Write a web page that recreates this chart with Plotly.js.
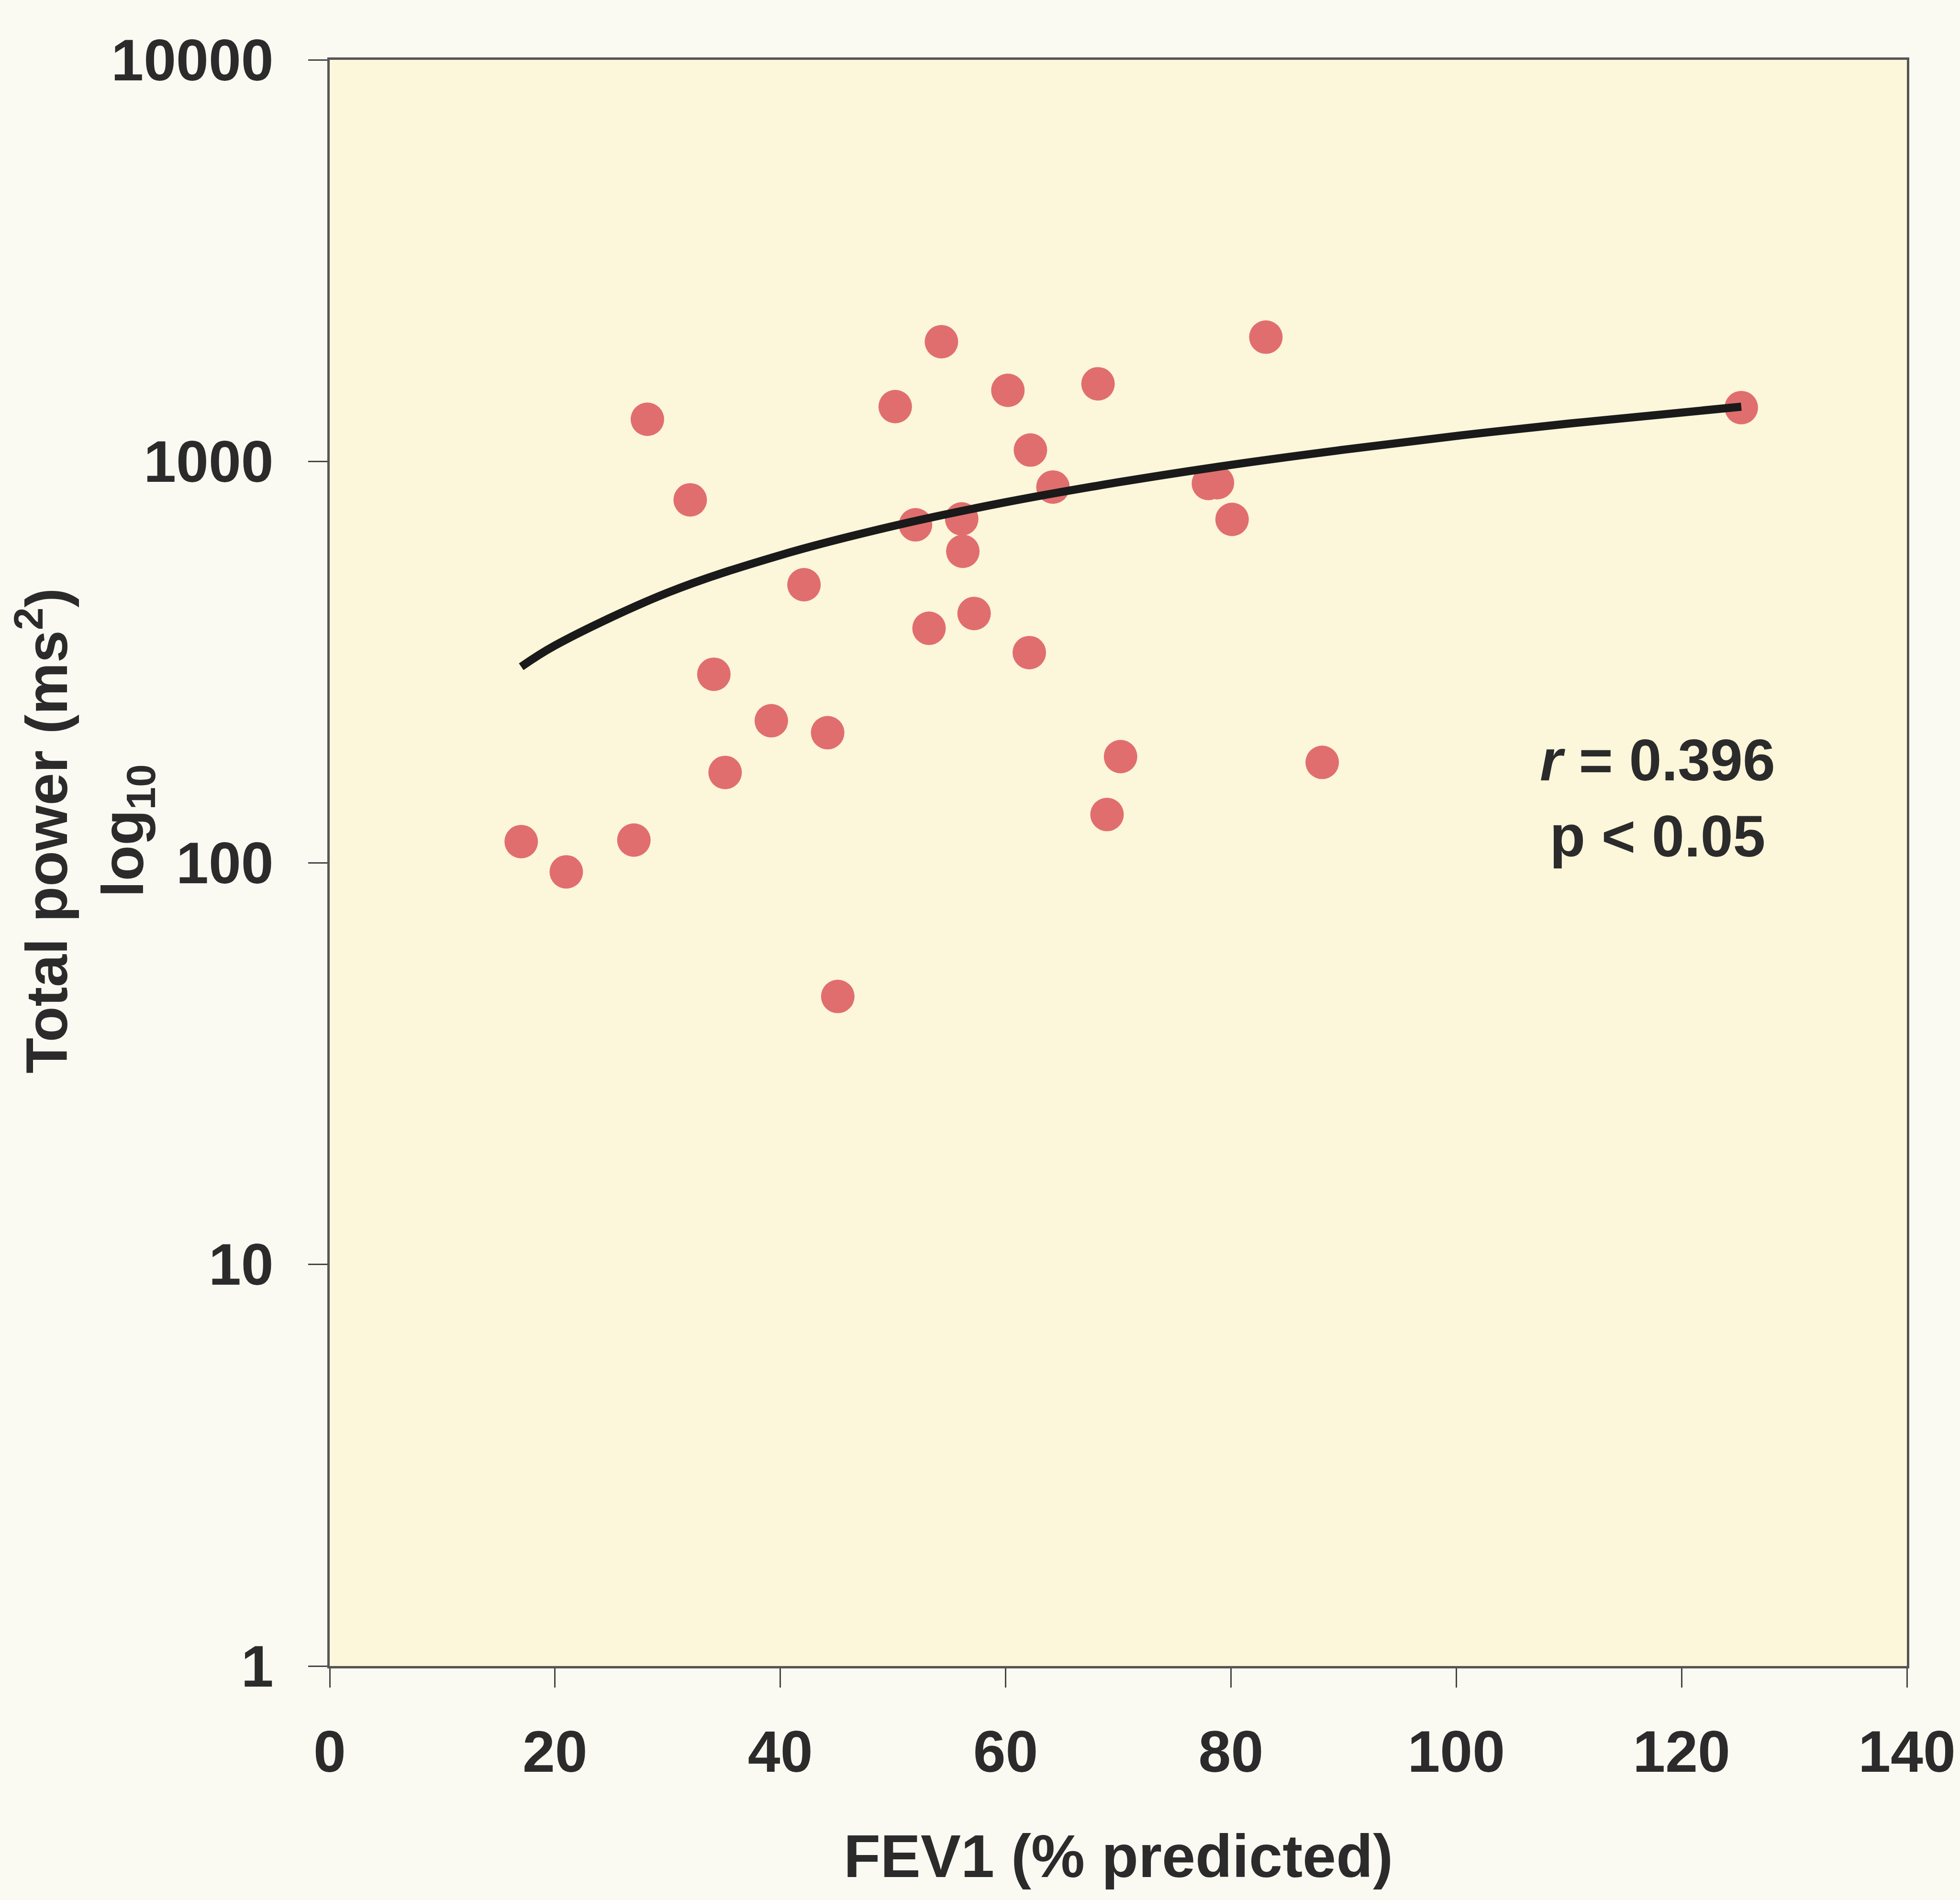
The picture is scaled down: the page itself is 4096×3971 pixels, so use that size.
<!DOCTYPE html>
<html>
<head>
<meta charset="utf-8">
<script src="https://cdn.plot.ly/plotly-3.0.1.min.js"></script>
<style>
html, body { margin: 0; padding: 0; background: #FAFAF3; }
#chart { width: 4096px; height: 3971px; }
</style>
</head>
<body>
<div id="chart"></div>
<script>
// Scatter data: FEV1 (% predicted) vs Total power (ms^2)
const fev1 = [17.0, 21.0, 27.0, 28.2, 32.0, 34.1, 35.1, 39.2, 42.1, 44.2, 45.1,
              50.2, 52.0, 53.2, 54.3, 56.1, 56.2, 57.2, 60.2, 62.1, 62.2, 64.2,
              68.2, 69.0, 70.2, 78.0, 78.8, 80.1, 83.1, 88.1, 125.3];
const totalPower = [113, 95, 114, 1273, 802, 295, 168, 226, 493, 211, 46.5,
                    1369, 695, 384, 1986, 719, 597, 418, 1503, 334, 1067, 863,
                    1560, 132, 184, 881, 885, 717, 2039, 178, 1361];

// Trend (power) curve
const trendFev1  = [17.0, 20, 30, 40, 50, 60, 70, 80, 90, 100, 110, 125.3];
const trendPower = [308, 348, 471, 584, 690, 791, 887, 980, 1069, 1157, 1242, 1368];

const xTickVals = [0, 20, 40, 60, 80, 100, 120, 140];
const xTickText = ['0', '20', '40', '60', '80', '100', '120', '140'];
const yTickVals = [1, 10, 100, 1000, 10000];
const yTickText = ['1', '10', '100', '1000', '10000'];

const xTitle = 'FEV1 (% predicted)';
const yTitle = 'Total power (ms<sup>2</sup>)<br>log<sub>10</sub>';
const statText = '<i>r</i> = 0.396<br>p &lt; 0.05';

const FONT = '"Liberation Sans", Arial, sans-serif';
const INK = '#2b2b2b';

const traces = [
  {
    type: 'scatter', mode: 'markers',
    x: fev1, y: totalPower,
    marker: { color: 'rgb(225,110,110)', size: 70, line: { width: 0 } },
    showlegend: false, hoverinfo: 'x+y'
  },
  {
    type: 'scatter', mode: 'lines',
    x: trendFev1, y: trendPower,
    line: { color: '#1a1a1a', width: 17, shape: 'spline' },
    showlegend: false, hoverinfo: 'skip'
  }
];

const layout = {
  width: 4096, height: 3971,
  margin: { l: 689, r: 111, t: 125, b: 489, pad: 0 },
  paper_bgcolor: '#FAFAF3',
  plot_bgcolor: '#FCF6DA',
  font: { family: FONT, size: 122, color: INK, weight: 'bold' },
  xaxis: {
    range: [0, 140],
    tickmode: 'array', tickvals: xTickVals, ticktext: xTickText,
    ticks: 'outside', ticklen: 40, tickwidth: 3, tickcolor: '#444',
    ticklabelstandoff: 30, ticklabeloverflow: 'allow',
    tickfont: { family: FONT, size: 122, color: INK, weight: 'bold' },
    showline: true, linecolor: '#555', linewidth: 5, mirror: true,
    showgrid: false, zeroline: false,
    title: { text: xTitle, standoff: 108, font: { family: FONT, size: 126, color: INK, weight: 'bold' } }
  },
  yaxis: {
    type: 'log', range: [0, 4],
    tickmode: 'array', tickvals: yTickVals, ticktext: yTickText,
    ticks: 'outside', ticklen: 40, tickwidth: 3, tickcolor: '#444',
    ticklabelstandoff: 48, ticklabeloverflow: 'allow',
    tickfont: { family: FONT, size: 122, color: INK, weight: 'bold' },
    showline: true, linecolor: '#555', linewidth: 5, mirror: true,
    showgrid: false, zeroline: false
  },
  annotations: [
    {
      xref: 'paper', yref: 'paper', x: -0.1553, y: 0.52,
      xanchor: 'center', yanchor: 'middle', textangle: -90,
      text: yTitle, showarrow: false, align: 'center',
      font: { family: FONT, size: 122, color: INK, weight: 'bold' }
    },
    {
      xref: 'paper', yref: 'paper', x: 0.8419, y: 0.5401,
      xanchor: 'center', yanchor: 'middle',
      text: statText, showarrow: false, align: 'center',
      font: { family: FONT, size: 122, color: INK, weight: 'bold' }
    }
  ]
};

Plotly.newPlot('chart', traces, layout, { staticPlot: true, displayModeBar: false });
</script>
</body>
</html>
